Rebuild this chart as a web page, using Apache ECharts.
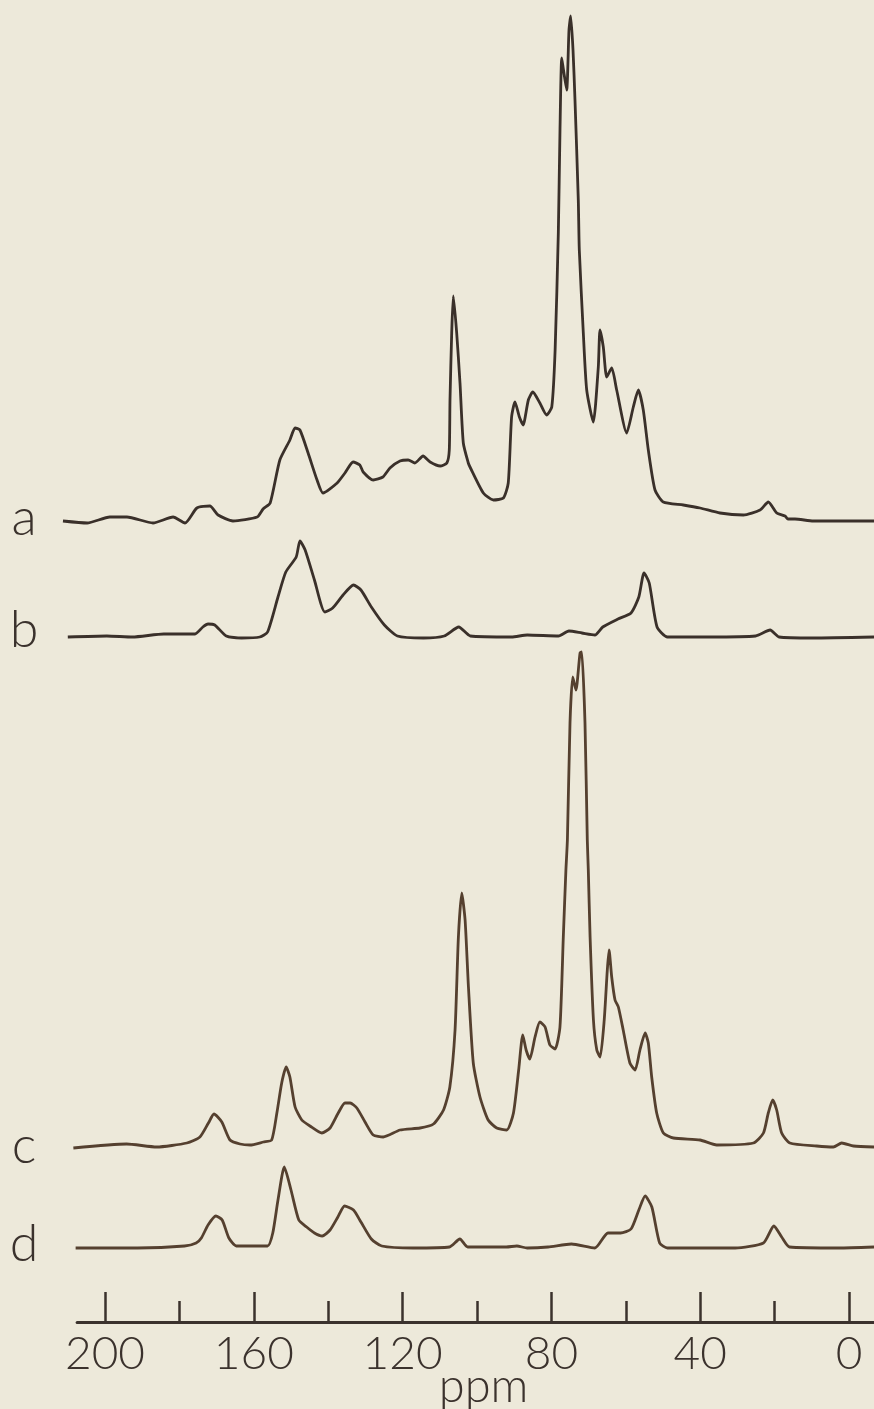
<!DOCTYPE html>
<html>
<head>
<meta charset="utf-8">
<script src="https://cdn.jsdelivr.net/npm/echarts@6/dist/echarts.min.js"></script>
<style>
  html, body { margin: 0; padding: 0; background: #EDE9DA; }
  #chart { width: 874px; height: 1409px; }
</style>
</head>
<body>
<div id="chart"></div>
<script>
// 13C CP/MAS spectra a–d: chemical shift (ppm) and intensity (arbitrary units above each baseline)
const ppmA = [211.3, 204.8, 198.7, 194.1, 187.1, 181.7, 178.5, 175.3, 171.8, 169.6, 165.6, 159.1, 157.5, 155.6, 153.0, 150.3, 148.9, 147.6, 145.4, 143.0, 141.4, 137.6, 135.5, 133.3, 131.5, 130.6, 127.9, 125.3, 123.4, 120.7, 118.5, 116.7, 114.5, 112.6, 109.9, 108.1, 107.45, 107.26, 106.8, 106.37, 105.46, 104.57, 103.68, 102.34, 101.88, 98.3, 95.6, 92.9, 91.6, 90.7, 89.8, 88.6, 87.6, 86.2, 85.0, 83.1, 81.3, 79.9, 79.0, 78.14, 77.69, 77.23, 76.75, 75.89, 75.27, 74.81, 74.19, 73.66, 72.77, 72.5, 71.42, 70.51, 68.74, 67.39, 66.94, 66.05, 65.13, 63.79, 62.45, 59.76, 57.98, 56.64, 55.3, 53.95, 52.15, 49.92, 44.54, 40.05, 34.68, 28.41, 23.92, 21.69, 19.44, 17.2, 16.4, 14.52, 9.6, -6.72];
const intA = [0, -2, 4, 4, -2, 4, -2, 13, 15, 6, 0, 4, 12, 18, 61, 81, 93, 91, 68, 41, 28, 38, 48, 59, 56, 49, 41, 44, 53, 60, 61, 58, 65, 59, 55, 58, 71, 121, 188, 225, 188, 138, 78, 58, 54, 28, 21, 23, 38, 104, 119, 104, 96, 121, 129, 118, 106, 114, 171, 288, 391, 463, 451, 431, 491, 505, 471, 421, 321, 271, 188, 131, 99, 154, 191, 174, 144, 153, 131, 88, 114, 131, 111, 71, 31, 19, 16, 13, 8, 6, 11, 19, 8, 5, 2, 2, 0, 0];

const ppmB = [210.0, 199.5, 192.6, 184.2, 175.8, 173.7, 172.3, 170.5, 167.4, 163.3, 158.4, 156.3, 153.5, 151.4, 148.6, 147.6, 146.2, 143.7, 140.9, 138.8, 136.0, 133.2, 131.2, 128.4, 124.9, 121.4, 114.4, 108.8, 104.9, 101.8, 90.7, 86.5, 78.1, 75.3, 71.8, 68.3, 66.2, 62.1, 58.6, 56.5, 55.1, 53.7, 51.6, 48.8, 37.6, 25.1, 21.2, 18.8, 9.7, -6.72];
const intB = [0, 1, 0, 3, 3, 10, 13, 12, 1, -1, 0, 5, 40, 65, 80, 96, 87, 57, 25, 29, 42, 52, 47, 30, 12, 1, -1, 1, 10, 1, 0, 2, 1, 6, 4, 2, 10, 18, 24, 40, 64, 54, 10, 0, 0, 1, 7, 0, -1, 0];

const ppmC = [208.5, 194.2, 186.1, 178.0, 174.5, 172.2, 170.7, 168.6, 166.4, 163.7, 161.0, 157.4, 155.2, 153.8, 152.5, 151.3, 150.3, 148.9, 147.1, 144.9, 141.7, 139.5, 137.3, 135.5, 134.1, 132.3, 130.1, 127.9, 125.2, 120.7, 115.3, 111.7, 109.0, 107.3, 105.9, 105.0, 104.1, 103.2, 102.3, 101.0, 99.2, 97.0, 94.7, 92.0, 90.2, 88.8, 87.7, 86.8, 85.8, 84.4, 83.1, 81.7, 80.4, 79.0, 77.7, 76.8, 76.1, 75.7, 75.0, 74.27, 73.4, 72.3, 71.85, 70.97, 70.35, 70.08, 69.6, 68.7, 67.8, 66.9, 65.8, 64.97, 64.5, 63.79, 62.9, 62.0, 60.7, 58.9, 57.5, 56.2, 54.8, 53.95, 53.04, 51.7, 49.9, 47.2, 40.05, 35.56, 25.7, 23.0, 21.7, 20.5, 19.44, 18.1, 15.9, 8.7, 4.2, 1.96, -1.2, -6.72];
const intC = [-1, 3, 0, 4, 10, 24, 33, 25, 7, 3, 2, 5, 7, 34, 64, 80, 70, 40, 27, 21, 14, 19, 34, 44, 44, 39, 25, 12, 10, 17, 19, 23, 37, 60, 117, 210, 254, 227, 160, 84, 50, 27, 19, 17, 34, 77, 112, 97, 88, 110, 125, 120, 102, 98, 120, 210, 277, 307, 424, 470, 457, 494, 495, 424, 307, 277, 210, 127, 97, 90, 127, 177, 197, 170, 147, 140, 117, 84, 77, 97, 114, 104, 70, 34, 14, 9, 7, 2, 4, 14, 34, 47, 37, 14, 4, 1, 0, 4, 1, 0];

const ppmD = [207.9, 191.2, 178.6, 175.5, 174.1, 172.3, 170.2, 168.5, 166.7, 164.7, 156.3, 154.9, 153.5, 151.8, 150.0, 147.9, 145.8, 143.7, 141.6, 139.5, 137.4, 135.6, 133.2, 131.2, 128.4, 125.6, 117.2, 107.4, 104.6, 102.5, 92.1, 89.3, 86.5, 80.9, 74.6, 68.3, 64.8, 61.4, 58.6, 56.5, 54.8, 53.0, 50.9, 48.8, 30.6, 23.0, 20.2, 18.1, 16.0, 2.7, -6.72];
const intD = [0, 0, 2, 5, 10, 23, 32, 28, 10, 2, 2, 15, 48, 81, 58, 28, 21, 15, 12, 18, 31, 42, 38, 26, 9, 2, 0, 1, 9, 1, 1, 2, 0, 1, 4, 0, 15, 15, 19, 38, 52, 41, 5, 0, 0, 5, 22, 11, 1, 0, 1];

const traceLabels = ['a', 'b', 'c', 'd'];
const majorTicks = [200, 160, 120, 80, 40, 0];
const minorTicks = [180, 140, 100, 60, 20];
const axisTitle = 'ppm';

// Layout: shared horizontal scale for all panels
const PPM_LOW = -6.72;
const PPM_HIGH_TRACE = 211.5;
const PPM_HIGH_AXIS = 207.5;
const PX_PER_PPM = 3.72;
const CHART_W = 874, CHART_H = 1409;
const traceLeft = CHART_W - (PPM_HIGH_TRACE - PPM_LOW) * PX_PER_PPM;
const axisLeft = CHART_W - (PPM_HIGH_AXIS - PPM_LOW) * PX_PER_PPM;

// baseline pixel row and vertical headroom for each spectrum (1 unit = 1 px)
const panels = [
  { ppm: ppmA, val: intA, base: 521, head: 512, color: '#3a302a' },
  { ppm: ppmB, val: intB, base: 637, head: 105, color: '#3a302a' },
  { ppm: ppmC, val: intC, base: 1147, head: 500, color: '#55402f' },
  { ppm: ppmD, val: intD, base: 1248, head: 90, color: '#55402f' }
];
const BELOW = 10;
const labelY = [518, 630, 1146, 1244];

const FONT = "Lato, 'Open Sans', 'DejaVu Sans', sans-serif";
const INK = '#3b322d';

const grid = [], xAxis = [], yAxis = [], series = [], graphic = [];
panels.forEach((p, i) => {
  grid.push({ left: traceLeft, right: 0, top: p.base - p.head, height: p.head + BELOW, outerBoundsMode: 'none' });
  xAxis.push({ gridIndex: i, type: 'value', inverse: true, min: PPM_LOW, max: PPM_HIGH_TRACE, show: false });
  yAxis.push({ gridIndex: i, type: 'value', min: -BELOW, max: p.head, show: false });
  series.push({
    name: traceLabels[i], type: 'line', xAxisIndex: i, yAxisIndex: i,
    data: p.ppm.map((x, k) => [x, p.val[k]]),
    showSymbol: false, smooth: 0.2, clip: false, silent: true,
    lineStyle: { color: p.color, width: 2.8 }
  });
  graphic.push({
    type: 'text', x: 24, y: labelY[i],
    style: {
      text: traceLabels[i], fontFamily: FONT, fontSize: 52, fontWeight: 300,
      fill: INK, align: 'center', verticalAlign: 'middle'
    }
  });
});

// ppm scale panel
const axisGrid = grid.length;
grid.push({ left: axisLeft, right: 0, bottom: CHART_H - 1322, height: 40, outerBoundsMode: 'none' });
yAxis.push({ gridIndex: axisGrid, type: 'value', show: false, min: 0, max: 1 });
xAxis.push({
  gridIndex: axisGrid, type: 'value', position: 'bottom', inverse: true,
  min: PPM_LOW, max: PPM_HIGH_AXIS,
  axisLine: { show: true, lineStyle: { color: INK, width: 3 } },
  axisTick: { show: true, inside: true, length: 30, customValues: majorTicks, lineStyle: { color: INK, width: 2.5 } },
  axisLabel: { show: true, customValues: majorTicks, margin: 9, fontFamily: FONT, fontSize: 46, fontWeight: 300, color: INK },
  splitLine: { show: false },
  name: axisTitle, nameLocation: 'middle', nameGap: 41, nameMoveOverlap: false,
  nameTextStyle: { fontFamily: FONT, fontSize: 47, fontWeight: 300, color: INK, padding: [0, 0, 0, 16] }
});
xAxis.push({
  gridIndex: axisGrid, type: 'value', position: 'bottom', offset: 0, inverse: true,
  min: PPM_LOW, max: PPM_HIGH_AXIS,
  axisLine: { show: false },
  axisTick: { show: true, inside: true, length: 21, customValues: minorTicks, lineStyle: { color: INK, width: 2.5 } },
  axisLabel: { show: false },
  splitLine: { show: false }
});

const chart = echarts.init(document.getElementById('chart'), null, { renderer: 'canvas' });
chart.setOption({
  backgroundColor: '#EDE9DA',
  animation: false,
  grid, xAxis, yAxis, series, graphic
});
</script>
</body>
</html>
